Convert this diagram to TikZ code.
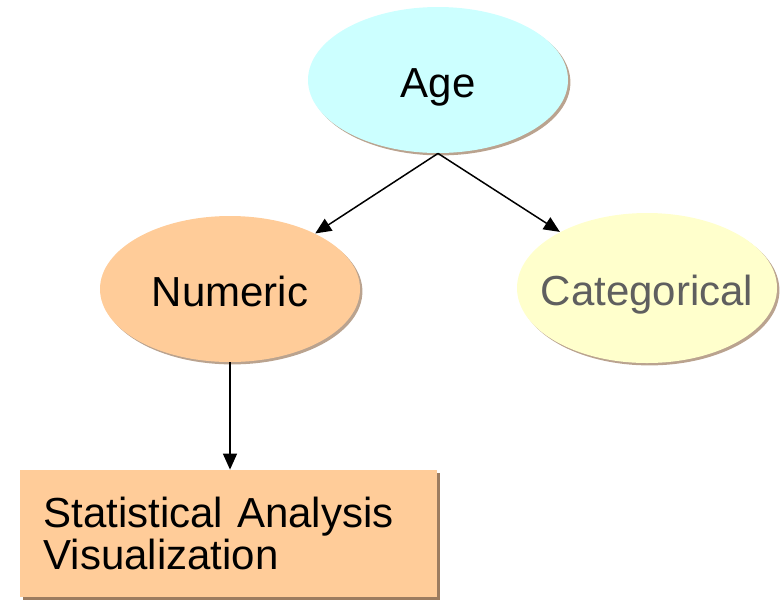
\documentclass[tikz,border=0pt]{standalone}
\usepackage{fontspec}
\setmainfont{Liberation Sans}
\usetikzlibrary{arrows.meta, positioning, shapes.geometric, shadows}

\definecolor{ageblue}{HTML}{CCFFFF}
\definecolor{numorange}{HTML}{FFCC99}
\definecolor{catyellow}{HTML}{FFFFCC}
\definecolor{cattext}{HTML}{5F5F5F}
\definecolor{shadowbrown}{HTML}{9C7C60}

\begin{document}
\begin{tikzpicture}[
    x=0.5pt, y=-0.5pt,
    >={Triangle[length=8pt, width=7pt]},
    link/.style={->, line width=0.75pt},
    oval/.style={ellipse, minimum width=130pt, minimum height=73pt, inner sep=0pt,
        text height=17pt, text depth=0pt,
        font=\fontsize{21}{24}\selectfont,
        drop shadow={shadow xshift=1.2pt, shadow yshift=-1.2pt, fill=shadowbrown, opacity=0.7}},
    resultbox/.style={rectangle, fill=numorange, minimum width=208.5pt, minimum height=63.5pt,
        text width=185pt, inner xsep=11.5pt, align=left,
        font=\fontsize{21}{16}\selectfont,
        drop shadow={shadow xshift=1.5pt, shadow yshift=-1.5pt, fill=shadowbrown, opacity=1}}
]
    \useasboundingbox (0,0) rectangle (780,600);

    % === Nodes ===
    \node[oval, fill=ageblue] (age) at (438,80) {Age};
    \node[oval, fill=numorange] (numeric) at (230,289) {Numeric};
    \node[oval, fill=catyellow, text=cattext, minimum height=75pt, inner xsep=-8pt] (categorical) at (647,288) {Categorical};
    \node[resultbox] (analysis) at (228.5,533.5) {Statistical Analysis\\Visualization};

    % === Connectors ===
    \draw[link] (age.south) -- (numeric);
    \draw[link] (age.south) -- (categorical);
    \draw[link] (numeric.south) -- (numeric.south |- analysis.north);

\end{tikzpicture}
\end{document}
